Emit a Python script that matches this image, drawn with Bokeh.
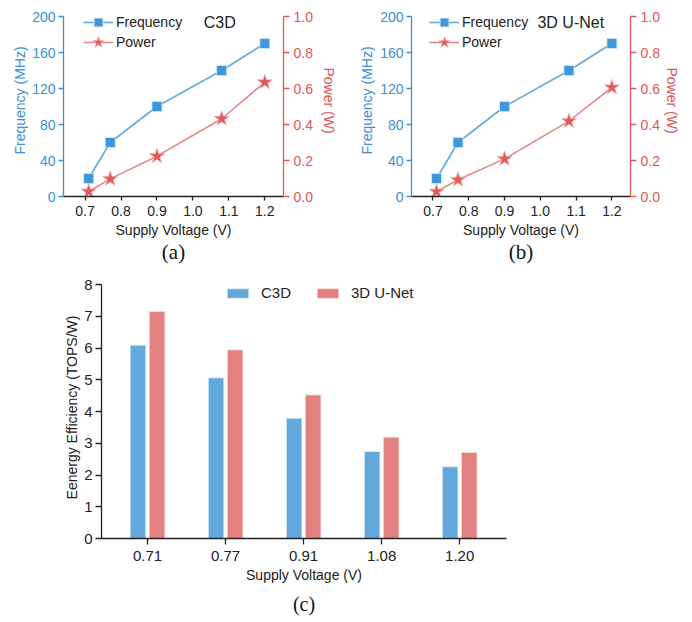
from bokeh.plotting import figure
from bokeh.models import (Range1d, LinearAxis, Legend, LegendItem, Label, Title,
                          FixedTicker)
from bokeh.layouts import column, row
from bokeh.embed import file_html
from bokeh.resources import INLINE

# ---------------- data ----------------
voltage = [0.71, 0.77, 0.90, 1.08, 1.20]
freq_mhz = [20, 60, 100, 140, 170]
power_c3d = [0.028, 0.098, 0.224, 0.432, 0.635]
power_unet = [0.027, 0.093, 0.209, 0.419, 0.606]

bar_voltages = ["0.71", "0.77", "0.91", "1.08", "1.20"]
eff_c3d = [6.09, 5.06, 3.79, 2.74, 2.26]
eff_unet = [7.15, 5.94, 4.52, 3.19, 2.71]

FONT = "Liberation Sans"
SERIF = "Liberation Serif"
BLUE_AX = "#3b8fd2"
BLUE_LN = "#5fabe2"
BLUE_MK = "#3f97d9"
RED_AX = "#e15656"
RED_LN = "#e88585"
RED_MK = "#e05a5a"
BAR_BLUE = "#62a8dc"
BAR_RED = "#e38080"


def style_axis(ax, color, size="14px", tick=5):
    ax.axis_line_color = color
    ax.major_tick_line_color = color
    ax.minor_tick_line_color = None
    ax.major_label_text_color = color
    ax.axis_label_text_color = color
    ax.major_label_text_font = FONT
    ax.axis_label_text_font = FONT
    ax.major_label_text_font_size = size
    ax.axis_label_text_font_size = "14px"
    ax.axis_label_text_font_style = "normal"
    ax.major_tick_in = 0
    ax.major_tick_out = tick
    ax.axis_line_width = 1.3
    ax.major_tick_line_width = 1.3


def make_legend(item, x, y, gh):
    lg = Legend(items=[item], location=(x, y), orientation="vertical")
    lg.glyph_width = 30
    lg.glyph_height = gh
    lg.label_height = 14
    lg.padding = 0
    lg.margin = 0
    lg.spacing = 0
    lg.label_standoff = 3
    lg.label_text_font = FONT
    lg.label_text_font_size = "14px"
    lg.label_text_color = "#222222"
    lg.background_fill_alpha = 0
    lg.border_line_color = None
    return lg


def line_panel(power, tag, caption, left, right, tag_x, leg_x, lstand, rstand):
    p = figure(width=346, height=270, output_backend="svg", toolbar_location=None,
               x_range=Range1d(0.64, 1.252), y_range=Range1d(0, 200 * 192 / 180),
               min_border_left=left, min_border_right=right,
               min_border_top=4, min_border_bottom=74)
    p.outline_line_color = None
    p.grid.visible = False
    p.extra_y_ranges = {"pw": Range1d(0, 1.0 * 192 / 180)}
    ax_r = LinearAxis(y_range_name="pw", axis_label="Power (W)")
    p.add_layout(ax_r, "right")

    p.xaxis.ticker = FixedTicker(ticks=[0.7, 0.8, 0.9, 1.0, 1.1, 1.2])
    p.xaxis.major_label_overrides = {0.7: "0.7", 0.8: "0.8", 0.9: "0.9",
                                     1.0: "1.0", 1.1: "1.1", 1.2: "1.2"}
    p.yaxis[0].ticker = FixedTicker(ticks=[0, 40, 80, 120, 160, 200])
    p.yaxis[0].bounds = (0, 200)
    ax_r.ticker = FixedTicker(ticks=[0, 0.2, 0.4, 0.6, 0.8, 1.0])
    ax_r.bounds = (0, 1.0)
    ax_r.major_label_overrides = {0: "0.0", 1.0: "1.0"}
    p.xaxis.axis_label = "Supply Voltage (V)"
    p.yaxis[0].axis_label = "Frequency (MHz)"

    style_axis(p.xaxis[0], "#222222", tick=4)
    style_axis(p.yaxis[0], BLUE_AX)
    style_axis(ax_r, RED_AX, tick=6)
    p.xaxis.major_label_standoff = 5
    p.xaxis.axis_label_standoff = 3
    p.yaxis[0].major_label_standoff = 3
    p.yaxis[0].axis_label_standoff = lstand
    ax_r.major_label_standoff = 4
    ax_r.axis_label_standoff = rstand

    fl = p.line(voltage, freq_mhz, line_color=BLUE_LN, line_width=1.6)
    fm = p.scatter(voltage, freq_mhz, marker="square", size=10,
                   fill_color=BLUE_MK, line_color="#cfe6f7", line_width=0.8)
    pl = p.line(voltage, power, line_color=RED_LN, line_width=1.6, y_range_name="pw")
    pm = p.scatter(voltage, power, marker="star", size=16, y_range_name="pw",
                   fill_color=RED_MK, line_color="#f2b5b5", line_width=0.8)

    p.add_layout(make_legend(LegendItem(label="Frequency", renderers=[fl, fm]),
                             leg_x, 163, 22))
    p.add_layout(make_legend(LegendItem(label="Power", renderers=[pl, pm]),
                             leg_x, 136, 36))

    p.add_layout(Label(x=tag_x, y=193, text=tag, text_font=FONT, text_font_size="16px",
                       text_color="#222222", text_baseline="middle"))

    p.add_layout(Title(text=caption, align="center", text_font=SERIF,
                       text_font_size="21px", text_font_style="normal",
                       text_color="#111111", standoff=-6), "below")
    return p


pa = line_panel(power_c3d, "C3D", "(a)", 63, 63, 1.03, 20, 1, 5)
pb = line_panel(power_unet, "3D U-Net", "(b)", 65, 62, 0.992, 18, 2, 1)

# ---------------- bar chart ----------------
pc = figure(width=692, height=352, output_backend="svg", toolbar_location=None,
            x_range=Range1d(-0.59, 4.6), y_range=Range1d(0, 8 * 262 / 254),
            min_border_left=101, min_border_right=186,
            min_border_top=6, min_border_bottom=84)
pc.outline_line_color = None
pc.grid.visible = False
idx = list(range(len(bar_voltages)))
b1 = pc.vbar(x=[i - 0.122 for i in idx], top=eff_c3d, width=0.2,
             fill_color=BAR_BLUE, line_color="#e6f1fa", line_width=0.8)
b2 = pc.vbar(x=[i + 0.122 for i in idx], top=eff_unet, width=0.2,
             fill_color=BAR_RED, line_color="#f6dcdc", line_width=0.8)
pc.xaxis.ticker = FixedTicker(ticks=idx)
pc.xaxis.major_label_overrides = {i: v for i, v in zip(idx, bar_voltages)}
pc.yaxis.ticker = FixedTicker(ticks=list(range(0, 9)))
pc.yaxis.bounds = (0, 8)
pc.xaxis.axis_label = "Supply Voltage (V)"
pc.yaxis.axis_label = "Eenergy Efficiency (TOPS/W)"
style_axis(pc.xaxis[0], "#222222", "15px", tick=6)
style_axis(pc.yaxis[0], "#222222", "15px", tick=6)
pc.xaxis.major_label_standoff = 6
pc.xaxis.axis_label_standoff = 3
pc.yaxis.major_label_standoff = 3
pc.yaxis.axis_label_standoff = 1

leg2 = Legend(items=[LegendItem(label="C3D", renderers=[b1]),
                     LegendItem(label="3D U-Net", renderers=[b2])],
              location=(123, 237), orientation="horizontal")
leg2.glyph_width = 27
leg2.glyph_height = 12
leg2.label_height = 14
leg2.padding = 0
leg2.margin = 0
leg2.spacing = 23
leg2.label_standoff = 10
leg2.label_text_font = FONT
leg2.label_text_font_size = "15px"
leg2.label_text_color = "#222222"
leg2.background_fill_alpha = 0
leg2.border_line_color = None
pc.add_layout(leg2)
pc.add_layout(Title(text="(c)", align="center", text_font=SERIF,
                    text_font_size="20px", text_font_style="normal",
                    text_color="#111111", standoff=11), "below")

layout = column(row(pa, pb, spacing=0), pc, spacing=0)
open("out.html", "w").write(file_html(layout, INLINE))
